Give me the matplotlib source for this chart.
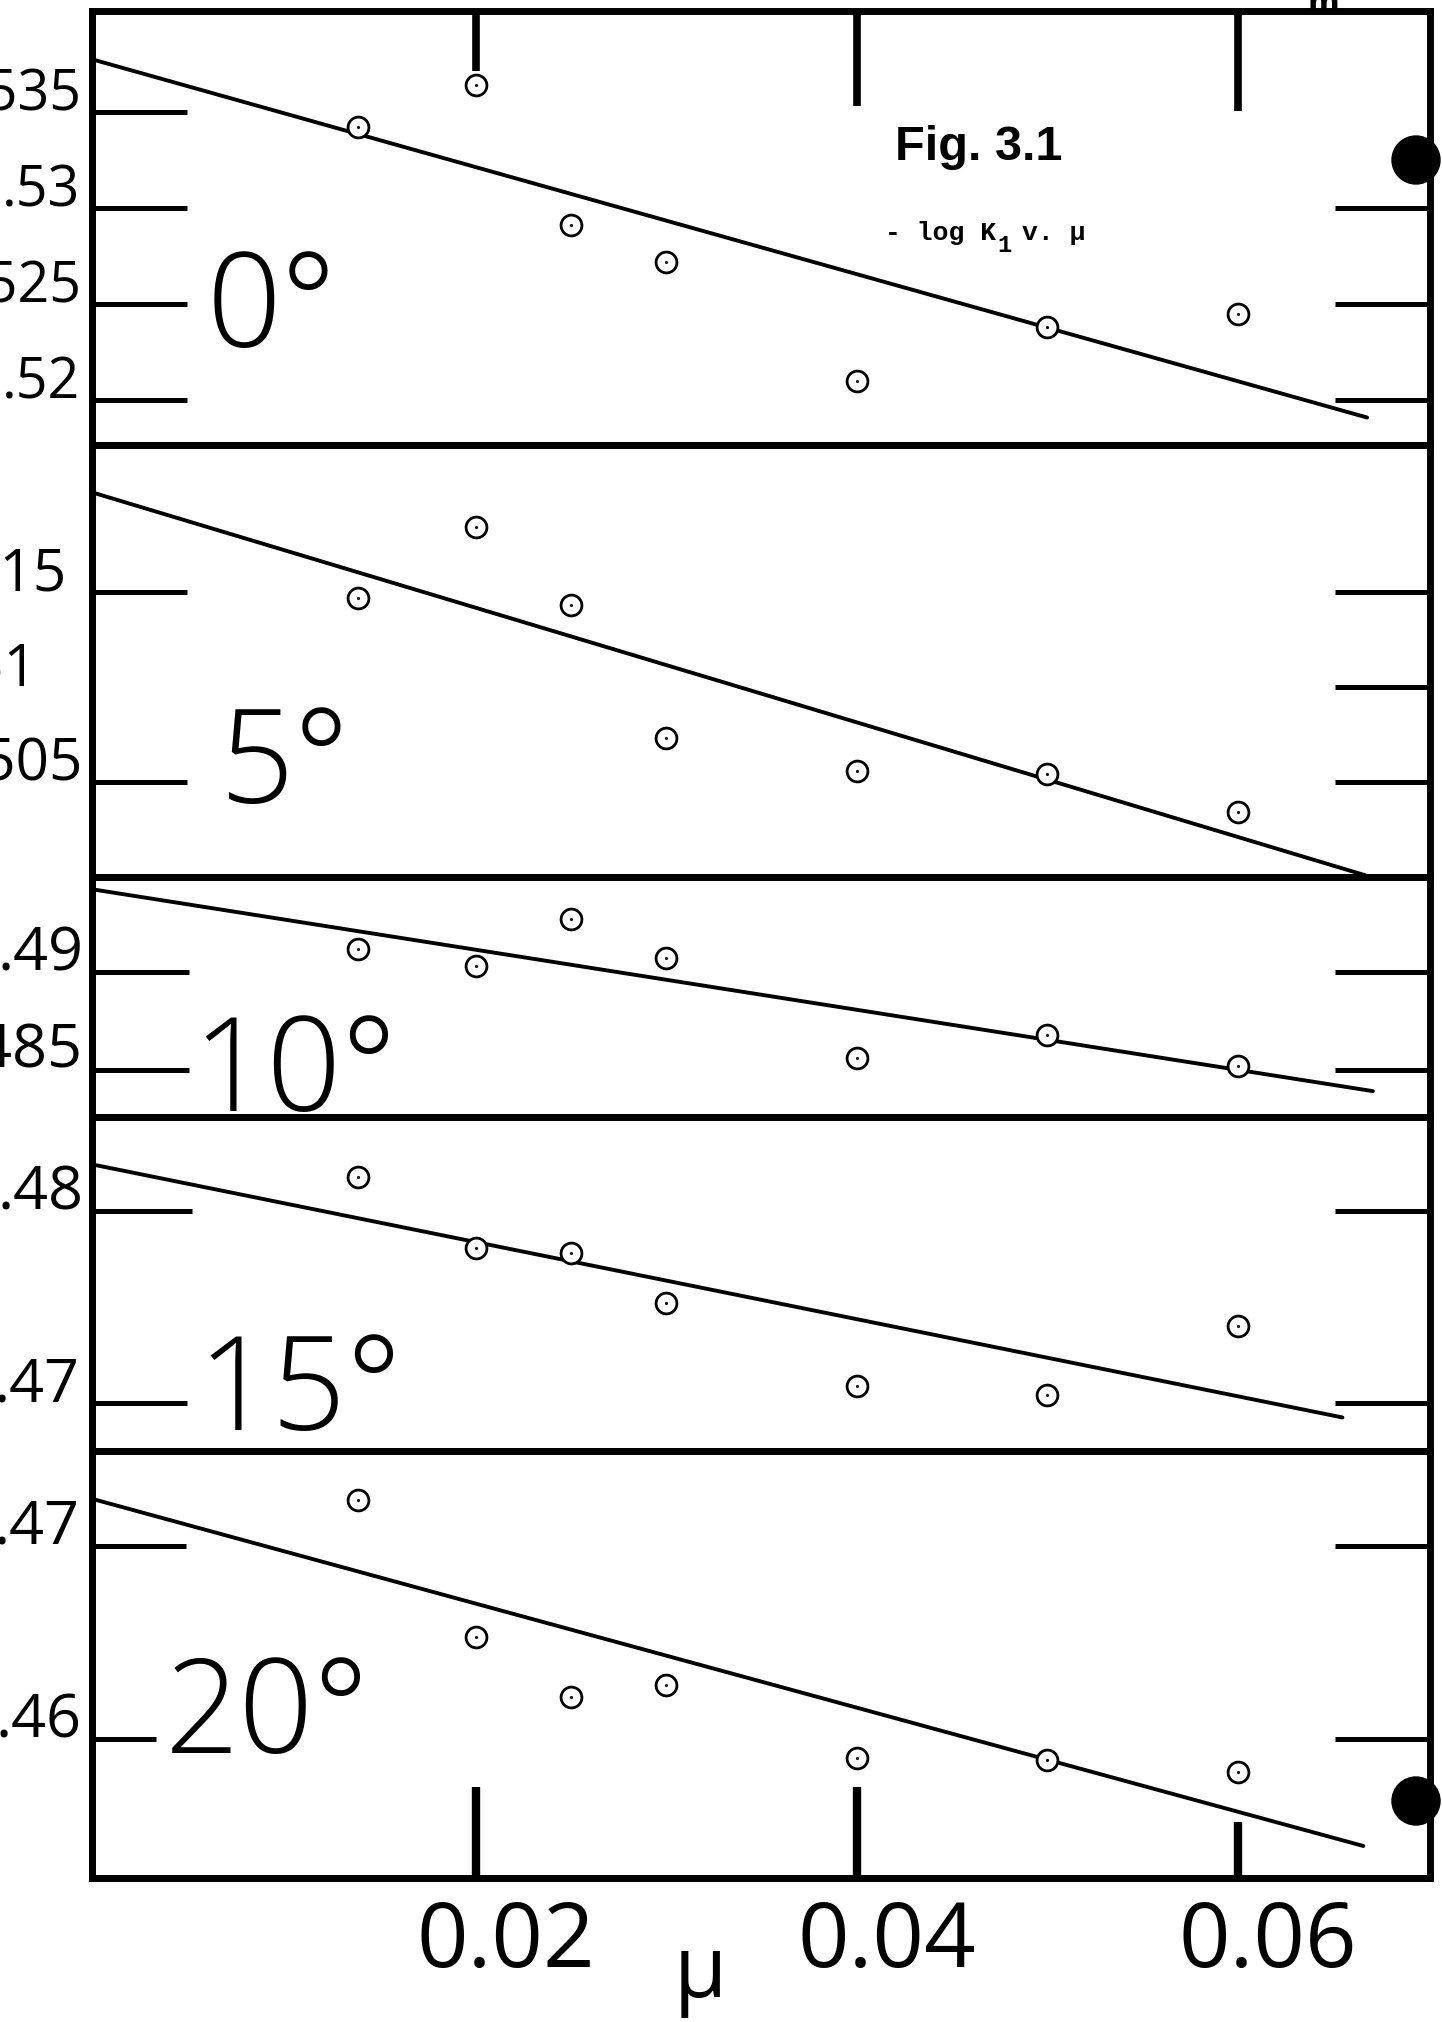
import matplotlib
matplotlib.use("Agg")
import matplotlib.pyplot as plt
from matplotlib.patches import Circle

# Fig. 3.1  -log K1 against ionic strength mu, five temperatures
mu = [0.0138, 0.020, 0.025, 0.030, 0.040, 0.050, 0.060]
temps = ["0°", "5°", "10°", "15°", "20°"]

pk_0 = [0.5342, 0.5364, 0.5291, 0.5272, 0.5210, 0.5238, 0.5245]
pk_5 = [0.5147, 0.5184, 0.5143, 0.5073, 0.5056, 0.5054, 0.5034]
pk_10 = [0.4912, 0.4903, 0.4927, 0.4907, 0.4856, 0.4868, 0.4852]
pk_15 = [0.4818, 0.4781, 0.4778, 0.4752, 0.4709, 0.4704, 0.4740]
pk_20 = [0.4724, 0.4653, 0.4622, 0.4628, 0.4590, 0.4589, 0.4583]
pk_all = [pk_0, pk_5, pk_10, pk_15, pk_20]

# drawn straight lines: value at mu=0, slope, mu where the pen stopped
fit_y0 = [0.5377, 0.5202, 0.4942, 0.4824, 0.4724]
fit_slope = [-0.2786, -0.3015, -0.1532, -0.2008, -0.2694]
fit_end = [0.0668, 0.0667, 0.0671, 0.0655, 0.0666]

# y ticks (left side has labels, right side only marks)
left_ticks = [[0.535, 0.53, 0.525, 0.52], [0.515, 0.505], [0.49, 0.485],
              [0.48, 0.47], [0.47, 0.46]]
label_vals = [[0.535, 0.53, 0.525, 0.52], [0.515, 0.51, 0.505], [0.49, 0.485],
              [0.48, 0.47], [0.47, 0.46]]
label_txt = [[".535", ".53", ".525", ".52"], [".515", ".51", ".505"], [".49", ".485"],
             [".48", ".47"], [".47", ".46"]]
right_ticks = [[0.53, 0.525, 0.52], [0.515, 0.51, 0.505], [0.49, 0.485],
               [0.48, 0.47], [0.47, 0.46]]

x_ticks = [0.02, 0.04, 0.06]
x_labels = ["0.02", "0.04", "0.06"]

# ---- layout (pixels of the 1442x2022 sheet) ----
W, H = 1442, 2022
PT = 0.72  # points per pixel at dpi 100
panel_px = [(11, 445), (445, 877), (877, 1117), (1117, 1451), (1451, 1878)]
ylims = [(0.51766, 0.54026), (0.5000, 0.52274), (0.4826, 0.49485),
         (0.4675, 0.4849), (0.4528, 0.47492)]
x_left, x_right = 92, 1430
xlim = (-0.00016, 0.0701)
label_dx = [[-10, -12, -10, -12], [-25, -54, -9], [-9, -9], [-9, -12], [-12, -10]]
label_size = [40, 42, 44, 44, 44]
left_len = [[95, 95, 95, 95], [95, 95], [97, 97], [100, 95], [94, 64]]
top_len = [60, 95, 100]
bot_len = [91, 91, 56]
temp_pos = [(207, 347), (220, 803), (192, 1111), (197, 1430), (165, 1753)]

SANS = ["Open Sans", "DejaVu Sans"]
MONO = ["Liberation Mono", "DejaVu Sans Mono"]


def fx(px):
    return px / W


def fy(py):
    return 1 - py / H


fig = plt.figure(figsize=(W / 100, H / 100), dpi=100)
fig.patch.set_facecolor("white")

axes = []
for i, (top, bot) in enumerate(panel_px):
    ax = fig.add_axes([fx(x_left), fy(bot), (x_right - x_left) / W, (bot - top) / H])
    ax.set_xlim(*xlim)
    ax.set_ylim(*ylims[i])
    ax.set_xticks([])
    ax.set_yticks([])
    for s in ax.spines.values():
        s.set_linewidth(5.0)
        s.set_capstyle("projecting")
    axes.append(ax)

    # fitted line
    xs = [0.0, fit_end[i]]
    ys = [fit_y0[i], fit_y0[i] + fit_slope[i] * fit_end[i]]
    ax.plot(xs, ys, color="black", lw=2.8, solid_capstyle="round", zorder=2)

    # points: open circles with a dot in the middle
    ax.plot(mu, pk_all[i], "o", ms=15, mfc="white", mec="black", mew=2.0, zorder=3)
    ax.plot(mu, pk_all[i], ".", ms=2.5, color="black", zorder=4)

    yax = ax.get_yaxis_transform()
    for v, L in zip(left_ticks[i], left_len[i]):
        ax.plot([0], [v], marker=1, ms=L * PT, mew=3.6, color="black",
                transform=yax, clip_on=False)
    for v in right_ticks[i]:
        ax.plot([1], [v], marker=0, ms=95 * PT, mew=3.6, color="black",
                transform=yax, clip_on=False)
    for v, t, dx in zip(label_vals[i], label_txt[i], label_dx[i]):
        ax.annotate(t, xy=(0, v), xycoords=yax, xytext=(dx * PT, 2 * PT),
                    textcoords="offset points", ha="right", va="baseline",
                    fontsize=label_size[i], family=SANS, annotation_clip=False)

# x ticks on the top and bottom edges
xax_top = axes[0].get_xaxis_transform()
for v, L in zip(x_ticks, top_len):
    axes[0].plot([v], [1], marker=3, ms=L * PT, mew=5.5, color="black",
                 transform=xax_top, clip_on=False)
xax_bot = axes[-1].get_xaxis_transform()
for v, L, t in zip(x_ticks, bot_len, x_labels):
    axes[-1].plot([v], [0], marker=2, ms=L * PT, mew=6.0, color="black",
                  transform=xax_bot, clip_on=False)
    axes[-1].annotate(t, xy=(v, 0), xycoords=xax_bot, xytext=(30 * PT, -89 * PT),
                      textcoords="offset points", ha="center", va="baseline",
                      fontsize=65, family=SANS, annotation_clip=False)

fig.text(fx(700), fy(1997), "μ", ha="center", va="baseline", fontsize=62, family=SANS)

# temperature labels
for t, (px, py) in zip(temps, temp_pos):
    fig.text(fx(px), fy(py), t, ha="left", va="baseline", fontsize=94,
             family=SANS, fontweight="light")

# title and typed caption (subscript typed half a line lower)
fig.text(fx(895), fy(160), "Fig. 3.1", ha="left", va="baseline", fontsize=35,
         fontweight="bold", family=["Liberation Sans", "DejaVu Sans"])
fig.text(fx(885), fy(240), "- log K", ha="left", va="baseline", fontsize=19,
         fontweight="bold", family=MONO)
fig.text(fx(997), fy(252), "1", ha="left", va="baseline", fontsize=17,
         fontweight="bold", family=MONO)
fig.text(fx(1022), fy(240), "v. μ", ha="left", va="baseline", fontsize=19,
         fontweight="bold", family=MONO)

# stray mark cut by the top edge and the two binder holes
fig.text(fx(1323), fy(12), "m", ha="center", va="baseline", fontsize=22, fontweight="bold")
for cy in (160, 1801):
    fig.add_artist(Circle((1416 / 100, (H - cy) / 100), 0.24, color="black",
                          transform=fig.dpi_scale_trans))

fig.savefig("out.png", dpi=100)
